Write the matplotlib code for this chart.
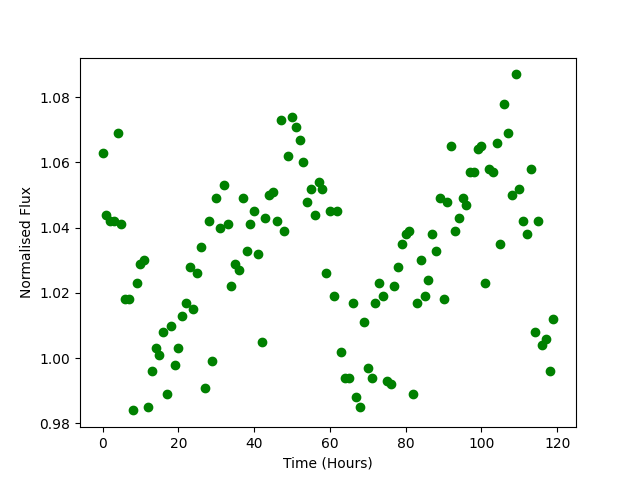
import matplotlib

matplotlib.use("Agg")
import matplotlib.pyplot as plt
import numpy as np

# hourly time stamps
hours = np.arange(120)

flux = [
    1.063, 1.044, 1.042, 1.042, 1.069, 1.041, 1.018, 1.018, 0.984, 1.023,
    1.029, 1.030, 0.985, 0.996, 1.003, 1.001, 1.008, 0.989, 1.010, 0.998,
    1.003, 1.013, 1.017, 1.028, 1.015, 1.026, 1.034, 0.991, 1.042, 0.999,
    1.049, 1.040, 1.053, 1.041, 1.022, 1.029, 1.027, 1.049, 1.033, 1.041,
    1.045, 1.032, 1.005, 1.043, 1.050, 1.051, 1.042, 1.073, 1.039, 1.062,
    1.074, 1.071, 1.067, 1.060, 1.048, 1.052, 1.044, 1.054, 1.052, 1.026,
    1.045, 1.019, 1.045, 1.002, 0.994, 0.994, 1.017, 0.988, 0.985, 1.011,
    0.997, 0.994, 1.017, 1.023, 1.019, 0.993, 0.992, 1.022, 1.028, 1.035,
    1.038, 1.039, 0.989, 1.017, 1.030, 1.019, 1.024, 1.038, 1.033, 1.049,
    1.018, 1.048, 1.065, 1.039, 1.043, 1.049, 1.047, 1.057, 1.057, 1.064,
    1.065, 1.023, 1.058, 1.057, 1.066, 1.035, 1.078, 1.069, 1.050, 1.087,
    1.052, 1.042, 1.038, 1.058, 1.008, 1.042, 1.004, 1.006, 0.996, 1.012,
]

fig, ax = plt.subplots(figsize=(6.4, 4.8))
ax.plot(hours, flux, "o", color="green")
ax.set_xlabel("Time (Hours)")
ax.set_ylabel("Normalised Flux")

fig.savefig("out.png", dpi=100)
plt.close(fig)
